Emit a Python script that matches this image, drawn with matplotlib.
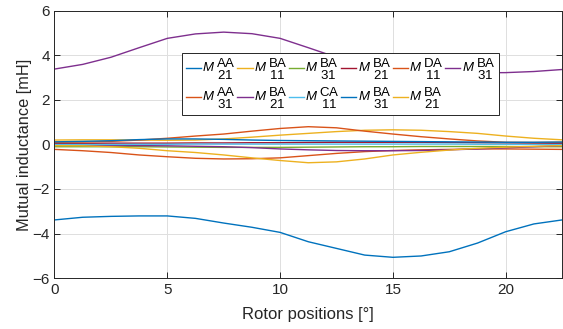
import numpy as np
import matplotlib
matplotlib.use("Agg")
import matplotlib.pyplot as plt

plt.rcParams['font.family'] = ['Liberation Sans', 'DejaVu Sans']
plt.rcParams['mathtext.fontset'] = 'custom'
plt.rcParams['mathtext.rm'] = 'Liberation Sans'
plt.rcParams['mathtext.it'] = 'Liberation Sans:italic'

# rotor position grid [deg]
theta = np.arange(0, 22.5 + 1e-9, 1.25)

# mutual inductances [mH]
m21_aa = [-3.39, -3.27, -3.23, -3.21, -3.21, -3.32, -3.53, -3.72, -3.95, -4.37,
          -4.67, -4.97, -5.07, -5.01, -4.82, -4.43, -3.92, -3.57, -3.39]
m11_ba = [0.20, 0.21, 0.21, 0.20, 0.19, 0.20, 0.25, 0.33, 0.42, 0.50,
          0.58, 0.64, 0.66, 0.64, 0.58, 0.50, 0.38, 0.28, 0.21]
m31_ba_g = [-0.10, -0.10, -0.10, -0.10, -0.11, -0.12, -0.13, -0.13, -0.13, -0.12,
            -0.11, -0.10, -0.10, -0.09, -0.09, -0.09, -0.09, -0.10, -0.10]
m21_ba_r = [0.05, 0.05, 0.06, 0.06, 0.06, 0.07, 0.07, 0.08, 0.08, 0.09,
            0.10, 0.10, 0.10, 0.10, 0.09, 0.08, 0.07, 0.06, 0.05]
m11_da = [0.10, 0.11, 0.14, 0.20, 0.28, 0.38, 0.47, 0.60, 0.72, 0.80,
          0.75, 0.60, 0.47, 0.35, 0.25, 0.16, 0.10, 0.09, 0.10]
m31_ba = [3.39, 3.60, 3.92, 4.35, 4.77, 4.97, 5.05, 4.98, 4.77, 4.35,
          3.92, 3.57, 3.37, 3.27, 3.23, 3.22, 3.23, 3.28, 3.37]
m31_aa = [-0.22, -0.28, -0.36, -0.47, -0.55, -0.62, -0.65, -0.64, -0.60, -0.50,
          -0.40, -0.32, -0.27, -0.24, -0.22, -0.20, -0.20, -0.21, -0.22]
m21_ba_p = [-0.03, -0.03, -0.04, -0.05, -0.06, -0.08, -0.10, -0.14, -0.20, -0.24,
            -0.27, -0.28, -0.28, -0.27, -0.24, -0.20, -0.15, -0.10, -0.05]
m11_ca = [0.00, 0.00, 0.00, 0.01, 0.01, 0.02, 0.02, 0.02, 0.02, 0.02,
          0.02, 0.02, 0.02, 0.02, 0.02, 0.01, 0.01, 0.00, 0.00]
m31_ba_b = [0.12, 0.14, 0.17, 0.22, 0.25, 0.25, 0.23, 0.20, 0.18, 0.17,
            0.16, 0.15, 0.14, 0.13, 0.12, 0.11, 0.10, 0.10, 0.11]
m21_ba_y = [-0.05, -0.06, -0.10, -0.17, -0.28, -0.36, -0.47, -0.60, -0.72, -0.82,
            -0.78, -0.65, -0.47, -0.35, -0.25, -0.17, -0.12, -0.08, -0.05]

series = [m21_aa, m11_ba, m31_ba_g, m21_ba_r, m11_da, m31_ba,
          m31_aa, m21_ba_p, m11_ca, m31_ba_b, m21_ba_y]
sup = ['AA', 'BA', 'BA', 'BA', 'DA', 'BA', 'AA', 'BA', 'CA', 'BA', 'BA']
sub = ['21', '11', '31', '21', '11', '31', '31', '21', '11', '31', '21']
labels = [r'$M\;\genfrac{}{}{0}{0}{\mathrm{%s}}{\mathrm{%s}}$' % (a, b)
          for a, b in zip(sup, sub)]
colors = ['#0072BD', '#EDB120', '#77AC30', '#A2142F', '#D95319', '#7E2F8E',
          '#D95319', '#7E2F8E', '#4DBEEE', '#0072BD', '#EDB120']

fig = plt.figure(figsize=(5.63, 3.29), dpi=100)
ax = fig.add_axes([0.0968, 0.155, 0.9016, 0.8116])

handles = []
for y, c, lab in zip(series, colors, labels):
    h, = ax.plot(theta, y, color=c, lw=1.0, label=lab)
    handles.append(h)

ax.set_xlim(0, 22.5)
ax.set_ylim(-6, 6)
ax.set_xticks([0, 5, 10, 15, 20])
ax.set_yticks([-6, -4, -2, 0, 2, 4, 6])
ax.grid(True, color='#dfdfdf', lw=0.7)
ax.set_axisbelow(True)
ax.tick_params(direction='in', top=True, right=True, length=4, width=0.7,
               labelsize=11, colors='#262626')
for s in ax.spines.values():
    s.set_color('#262626')
    s.set_linewidth(0.7)
ax.set_xlabel('Rotor positions [°]', fontsize=12, color='#262626', labelpad=7)
ax.set_ylabel('Mutual inductance [mH]', fontsize=11.8, color='#262626', labelpad=0)

# two rows of six columns, filled row by row
row1, row2 = list(range(6)), list(range(6, 11))
order = []
for i in range(6):
    order.append(row1[i])
    if i < len(row2):
        order.append(row2[i])
leg = ax.legend([handles[i] for i in order], [labels[i] for i in order],
                ncol=6, loc='upper left', bbox_to_anchor=(0.251, 0.843),
                borderaxespad=0, fontsize=9.5, handlelength=1.15,
                handletextpad=0.1, columnspacing=0.1, labelspacing=0.3,
                borderpad=0.3, fancybox=False, framealpha=1,
                edgecolor='#262626')
leg.get_frame().set_linewidth(0.7)

fig.savefig('out.png', dpi=100)
